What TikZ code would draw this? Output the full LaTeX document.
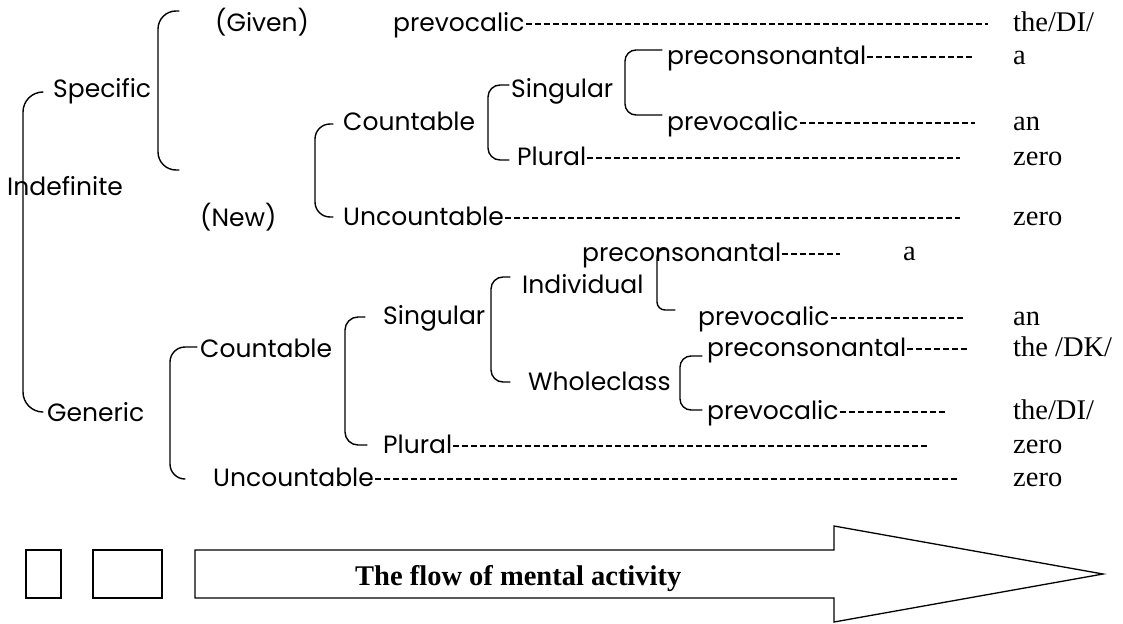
\documentclass[tikz,border=0pt]{standalone}
\usepackage{fontspec}
\setmainfont{Liberation Serif}
\newfontfamily\labelfont{Poppins}
\begin{document}
\begin{tikzpicture}[x=1pt,y=-1pt,
  lbl/.style={font=\labelfont\fontsize{25}{30}\selectfont, anchor=west, inner sep=0pt,
    text height=19pt, text depth=4pt},
  res/.style={font=\fontsize{28.5}{34}\selectfont, anchor=mid west, inner sep=0pt},
  brk/.style={line width=1.4pt, line join=round, line cap=round},
  lead/.style={line width=1.2pt, dash pattern=on 6pt off 3pt, shorten <=1pt},
  outline/.style={line width=1.3pt, line join=miter}]
\useasboundingbox (0,0) rectangle (1123,623);

% ---- category labels ----
\node[lbl] (indef)  at (7,188)   {Indefinite};
\node[lbl] (spec)   at (53,90)   {Specific};
\node[lbl] (gen)    at (47,414)  {Generic};
\node[lbl] (given)  at (215,24)  {(Given)};
\node[lbl] (new)    at (200,219) {(New)};
\node[lbl] (pv1)    at (393,24)  {prevocalic};
\node[lbl] (sCount) at (343,123) {Countable};
\node[lbl] (sUnc)   at (343,218) {Uncountable};
\node[lbl] (sSing)  at (511,90)  {Singular};
\node[lbl] (sPlur)  at (517,158) {Plural};
\node[lbl] (pc1)    at (667,57)  {preconsonantal};
\node[lbl] (pv2)    at (667,123) {prevocalic};
\node[lbl] (gCount) at (200,350) {Countable};
\node[lbl] (gUnc)   at (213,479) {Uncountable};
\node[lbl] (gSing)  at (383,317) {Singular};
\node[lbl] (gPlur)  at (383,446) {Plural};
\node[lbl] (indiv)  at (522,286) {Individual};
\node[lbl] (whole)  at (528,383) {Wholeclass};
\node[lbl] (pc2)    at (582,254) {preconsonantal};
\node[lbl] (pv3)    at (698,318) {prevocalic};
\node[lbl] (pc3)    at (707,349) {preconsonantal};
\node[lbl] (pv4)    at (707,412) {prevocalic};

% ---- article forms ----
\node[res] (r1)  at (1013,29)  {the/DI/};
\node[res] (r2)  at (1013,62)  {a};
\node[res] (r3)  at (1013,128) {an};
\node[res] (r4)  at (1013,163) {zero};
\node[res] (r5)  at (1013,223) {zero};
\node[res] (r6)  at (903,258)  {a};
\node[res] (r7)  at (1013,323) {an};
\node[res] (r8)  at (1013,354) {the /DK/};
\node[res] (r9)  at (1013,417) {the/DI/};
\node[res] (r10) at (1013,451) {zero};
\node[res] (r11) at (1013,484) {zero};

% ---- ends of the dotted leaders ----
\coordinate (e1)  at (988,0);
\coordinate (e2)  at (972,0);
\coordinate (e3)  at (975,0);
\coordinate (e4)  at (960,0);
\coordinate (e5)  at (960,0);
\coordinate (e6)  at (840,0);
\coordinate (e7)  at (965,0);
\coordinate (e8)  at (970,0);
\coordinate (e9)  at (947,0);
\coordinate (e10) at (930,0);
\coordinate (e11) at (958,0);

\draw[lead] (pv1.east)   -- (pv1.east -| e1);
\draw[lead] (pc1.east)   -- (pc1.east -| e2);
\draw[lead] (pv2.east)   -- (pv2.east -| e3);
\draw[lead] (sPlur.east) -- (sPlur.east -| e4);
\draw[lead] (sUnc.east)  -- (sUnc.east -| e5);
\draw[lead] (pc2.east)   -- (pc2.east -| e6);
\draw[lead] (pv3.east)   -- (pv3.east -| e7);
\draw[lead] (pc3.east)   -- (pc3.east -| e8);
\draw[lead] (pv4.east)   -- (pv4.east -| e9);
\draw[lead] (gPlur.east) -- (gPlur.east -| e10);
\draw[lead] (gUnc.east)  -- (gUnc.east -| e11);

% ---- brackets ----
\draw[brk, rounded corners=20pt] (43,92)  -- (23,92)  -- (23,412) -- (43,412);   % Indefinite
\draw[brk, rounded corners=18pt] (179,11) -- (158,11) -- (158,170) -- (179,170); % Specific
\draw[brk, rounded corners=15pt] (333,124) -- (315,124) -- (315,217) -- (333,217); % Countable / Uncountable
\draw[brk, rounded corners=12pt] (509,85) -- (488,85) -- (488,160) -- (509,160); % Singular / Plural
\draw[brk, rounded corners=11pt] (662,50) -- (625,50) -- (625,115) -- (662,115); % preconsonantal / prevocalic
\draw[brk, rounded corners=15pt] (197,347) -- (170,347) -- (170,479) -- (184,479); % generic Countable / Uncountable
\draw[brk, rounded corners=13pt] (365,317) -- (345,317) -- (345,445) -- (367,445); % generic Singular / Plural
\draw[brk, rounded corners=12pt] (510,277) -- (491,277) -- (491,382) -- (510,382); % Individual / Wholeclass
\draw[brk, rounded corners=8pt]  (666,249) -- (657,249) -- (657,310) -- (675,310); % Individual
\draw[brk, rounded corners=11pt] (702,356) -- (680,356) -- (680,410) -- (702,410); % Wholeclass

% ---- bottom: two boxes and the arrow ----
\draw[outline] (26,550) rectangle (61,598);
\draw[outline] (93,550) rectangle (162,598);
\draw[outline] (195,550) -- (834,550) -- (834,526) -- (1103,574) -- (834,622)
  -- (834,598) -- (195,598) -- cycle;
\node[font=\bfseries\fontsize{28.5}{34}\selectfont, anchor=base west, inner sep=0pt]
  (flow) at (355,585) {The flow of mental activity};
\end{tikzpicture}
\end{document}
